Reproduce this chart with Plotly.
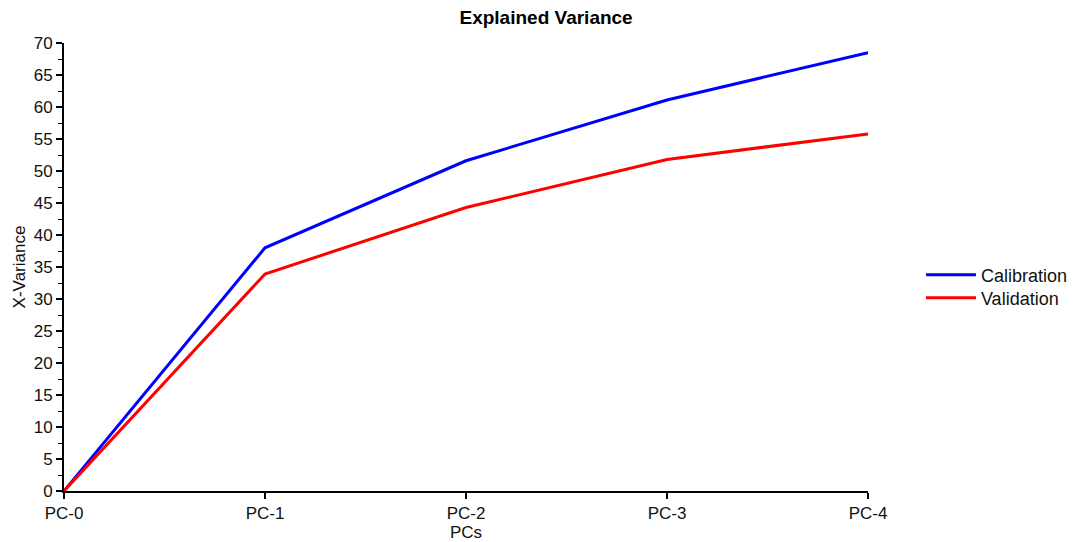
import plotly.graph_objects as go

pcs = ["PC-0", "PC-1", "PC-2", "PC-3", "PC-4"]
calibration = [0.0, 38.0, 51.6, 61.1, 68.5]
validation = [0.0, 33.9, 44.3, 51.8, 55.8]

x_idx = list(range(len(pcs)))

fig = go.Figure()
fig.add_trace(go.Scatter(x=x_idx, y=calibration, mode="lines", name="Calibration",
                         line=dict(color="#0000FF", width=3), legend="legend"))
fig.add_trace(go.Scatter(x=x_idx, y=validation, mode="lines", name="Validation",
                         line=dict(color="#FF0000", width=3), legend="legend2"))

font_family = "Liberation Sans, Arial, sans-serif"
leg_common = dict(xref="container", yref="container", xanchor="left", yanchor="middle",
                  font=dict(size=18), itemwidth=50, bgcolor="rgba(0,0,0,0)")
fig.update_layout(
    autosize=True,
    margin=dict(l=64, r=207, t=43, b=51, autoexpand=False),
    paper_bgcolor="white", plot_bgcolor="white",
    font=dict(family=font_family, size=17, color="#111111"),
    title=dict(text="<b>Explained Variance</b>", x=0.508, xref="container", xanchor="center",
               y=0.9686, yref="container", yanchor="middle", font=dict(size=19, color="black")),
    legend=dict(x=0.8567, y=0.4926, **leg_common),
    legend2=dict(x=0.8567, y=0.4502, **leg_common),
    showlegend=True,
)
fig.update_xaxes(
    range=[0, 4], tickmode="array", tickvals=x_idx, ticktext=pcs, automargin=False,
    showline=True, linecolor="black", linewidth=2, ticks="outside", ticklen=6,
    tickwidth=2, tickcolor="black", showgrid=False, zeroline=False,
    title=dict(text="PCs", standoff=4, font=dict(size=17)),
    tickfont=dict(size=17),
)
fig.update_yaxes(
    range=[0, 70], dtick=5, tick0=0, automargin=False,
    showline=True, linecolor="black", linewidth=2, ticks="outside", ticklen=6,
    tickwidth=2, tickcolor="black", showgrid=False, zeroline=False,
    minor=dict(dtick=2.5, ticks="outside", ticklen=4, tickwidth=1, tickcolor="black", showgrid=False),
    title=dict(text="X-Variance", standoff=4, font=dict(size=17)),
    tickfont=dict(size=17),
)

fig.write_html(
    "out.html",
    default_width="100vw",
    default_height="100vh",
    config={"displayModeBar": False},
    post_script="document.body.style.margin='0';document.body.style.overflow='hidden';",
)
